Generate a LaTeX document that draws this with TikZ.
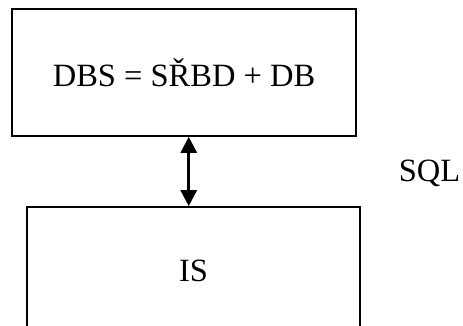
\documentclass[tikz,border=0pt]{standalone}
\usepackage{fontspec}
\setmainfont{Liberation Serif}
\usetikzlibrary{calc,arrows.meta}

\begin{document}
\begin{tikzpicture}[
    x=1pt, y=-1pt,
    font=\fontsize{32.5}{38}\selectfont,
    box/.style = {draw, line width=1.6pt, minimum width=344pt, minimum height=127pt, inner sep=0pt},
    link/.style = {line width=2.6pt, {Triangle[width=16pt,length=16pt]}-{Triangle[width=16pt,length=16pt]}}
  ]
  \useasboundingbox (0,0) rectangle (463,326);
  \clip (0,0) rectangle (463,326);

  \node (dbs) [box] at (184,72.5) {DBS = SŘBD + DB};
  \node (is) [box, minimum width=333pt] at (193.5,270.5) {IS};
  \node (sql) at (429.5,173) {SQL};

  \coordinate (mid) at ($(dbs.south)!.5!(is.north)$);
  \draw [link] (dbs.south -| mid) -- (is.north -| mid);
\end{tikzpicture}
\end{document}
